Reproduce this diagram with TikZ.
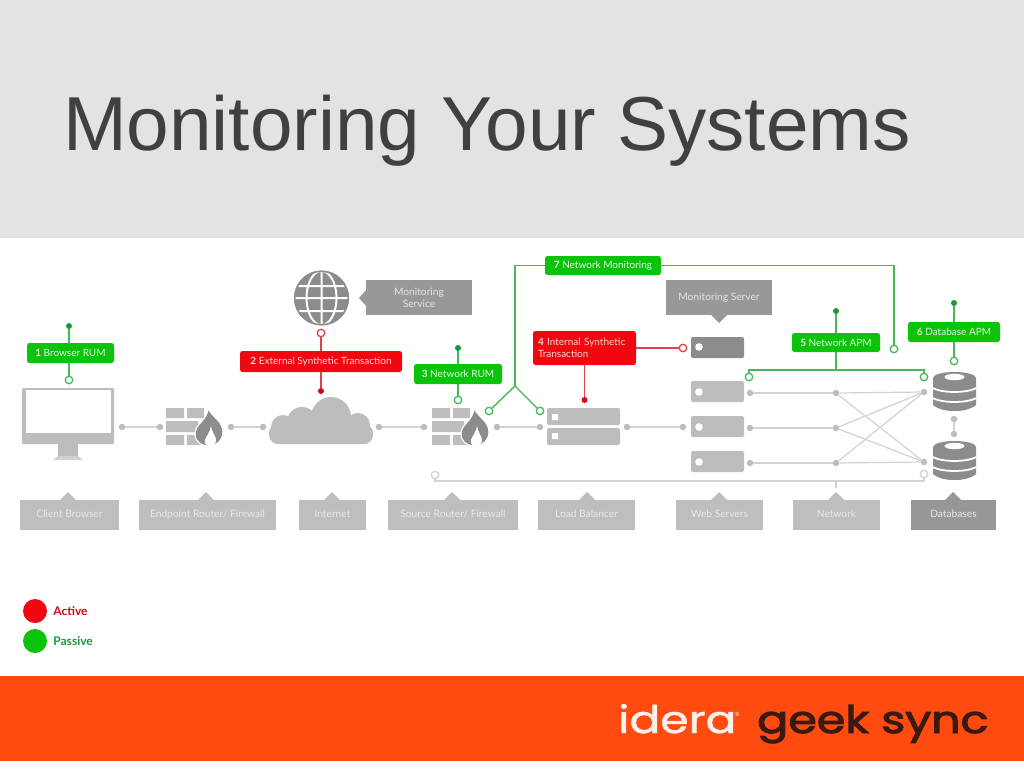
\documentclass[tikz,border=0pt]{standalone}
\usepackage{fontspec}
\setmainfont{Liberation Sans}
\newfontfamily\labelfont{Lato}
\newfontfamily\logofont[FakeBold=1.2]{Poppins}
\newfontfamily\syncfont[FakeBold=2.5]{Poppins}
\usetikzlibrary{calc,positioning}
\definecolor{FigureHeader}{HTML}{E3E3E3}
\definecolor{FigureTitle}{HTML}{404040}
\definecolor{FigureOrange}{HTML}{FF4A10}
\definecolor{FigureGreen}{HTML}{0AC30A}
\definecolor{FigureRed}{HTML}{F2060F}
\definecolor{FigureLine}{HTML}{45B85A}
\definecolor{FigureDot}{HTML}{159A3C}
\definecolor{FigureRedLine}{HTML}{E0404A}
\definecolor{FigureRedDot}{HTML}{D00A1C}
\definecolor{FigureIcon}{HTML}{BDBDBD}
\definecolor{FigureDark}{HTML}{8C8C8C}
\definecolor{FigureCallout}{HTML}{989898}
\definecolor{FigureBox}{HTML}{BEBEBE}
\definecolor{FigureWire}{HTML}{D2D2D2}
\definecolor{FigureBrown}{HTML}{3A1A10}
\tikzset{
  greenlabel/.style={rectangle,rounded corners=2.5pt,fill=FigureGreen,text=white!88!FigureGreen,inner sep=0pt,font=\labelfont\fontsize{10}{12.5}\selectfont},
  redlabel/.style={greenlabel,fill=FigureRed,text=white!85!FigureRed},
  capbox/.style={rectangle,fill=FigureBox,text=white!65!FigureBox,inner sep=0pt,minimum height=30pt,text height=7.5pt,text depth=2.5pt,font=\labelfont\fontsize{10.2}{12}\selectfont},
  darkbox/.style={rectangle,fill=FigureCallout,text=white!75!FigureCallout,inner sep=0pt,minimum height=35pt,font=\labelfont\fontsize{10.2}{12}\selectfont},
  greendot/.style={circle,fill=FigureDot,inner sep=0pt,minimum size=6pt},
  reddot/.style={circle,fill=FigureRedDot,inner sep=0pt,minimum size=6pt},
  greenring/.style={circle,draw=FigureLine,fill=white,line width=1.3pt,inner sep=0pt,minimum size=7.5pt},
  redring/.style={greenring,draw=FigureRedLine},
  grayring/.style={greenring,draw=FigureWire},
  graydot/.style={circle,fill=FigureIcon,inner sep=0pt,minimum size=6.5pt},
  greenwire/.style={FigureLine,line width=1.4pt},
  redwire/.style={FigureRedLine,line width=1.4pt},
  graywire/.style={FigureWire,line width=1.2pt},
  serverbox/.style={rectangle,rounded corners=2pt,fill=FigureIcon,inner sep=0pt,minimum width=53pt,minimum height=21pt},
  firewall/.pic={
    \fill[FigureIcon] (0,1) rectangle (18,11) (21,1) rectangle (38,11)
      (0,14) rectangle (32,25) (0,28) rectangle (18,38) (21,28) rectangle (35,38);
    \fill[FigureDark,draw=white,line width=1.2pt] (42,1) .. controls (46,10) and (57,14) .. (57,25)
      .. controls (57,33) and (51,39) .. (43,39) .. controls (34,39) and (28,33) .. (29,26)
      .. controls (30,16) and (41,14) .. (42,1) -- cycle;
    \fill[white] (45,19) .. controls (46,26) and (50,29) .. (50,33) .. controls (50,37) and (47,39) .. (44,39)
      .. controls (41,39) and (38,37) .. (39,33) .. controls (40,29) and (44,26) .. (45,19) -- cycle;
  },
  database/.pic={
    \fill[FigureDark] (-21.5,6) arc[x radius=21.5,y radius=6,start angle=180,end angle=360]
      arc[x radius=21.5,y radius=6,start angle=0,end angle=180] -- cycle;
    \fill[FigureDark] (-21.5,6) -- (21.5,6) -- (21.5,33) .. controls (15,38) and (8,39) .. (0,39)
      .. controls (-8,39) and (-15,38) .. (-21.5,33) -- cycle;
    \fill[white] (0,5) ellipse[x radius=10,y radius=3.2];
    \draw[white,line width=1.8pt] (-22,16) .. controls (-12,21.3) and (12,21.3) .. (22,16);
    \draw[white,line width=1.8pt] (-22,26) .. controls (-12,31.3) and (12,31.3) .. (22,26);
  },
}
\begin{document}
\begin{tikzpicture}[x=1pt,y=-1pt]
  \useasboundingbox (0,0) rectangle (1024,768);
  \fill[white] (0,0) rectangle (1024,768);
  \fill[FigureHeader] (0,0) rectangle (1024,238);
  \fill[FigureOrange] (0,676) rectangle (1024,761);
  \node[anchor=base west,inner sep=0pt,text=FigureTitle,font=\fontsize{76.5}{80}\selectfont] (title) at (63,150) {Monitoring Your Systems};

  % client browser
  \fill[FigureIcon] (58,444) rectangle (78,457);
  \fill[FigureIcon!70!white] (53,460) -- (58,456) -- (78,456) -- (83,460) -- cycle;
  \fill[FigureIcon,rounded corners=1pt] (22,388) rectangle (114,444);
  \fill[white] (26,390) rectangle (111,433);

  \pic at (166,407) {firewall};
  \pic at (432,407) {firewall};

  % internet cloud
  \fill[FigureIcon] (331,417) circle (20) (302,422) circle (15) (283,427) circle (12) (358,425) circle (12);
  \fill[FigureIcon,rounded corners=9pt] (269,424) rectangle (373,444);

  % monitoring service globe
  \begin{scope}
    \clip (321.5,298) circle (27.5);
    \fill[FigureDark] (294,270) rectangle (350,326);
    \draw[white,line width=2pt] (294,286) -- (350,286) (294,298) -- (350,298) (294,311) -- (350,311) (321.5,270) -- (321.5,326)
      (321.5,298) ellipse[x radius=15,y radius=27];
  \end{scope}
  \draw[FigureDark,line width=1.6pt] (321.5,298) circle (26.7);

  \node[darkbox,minimum width=106pt,align=center] (service) at (419,297.5) {Monitoring\\Service};
  \fill[FigureCallout] (366,290) -- (359,298) -- (366,306) -- cycle;
  \node[darkbox,minimum width=106pt] (server) at (719,297.5) {Monitoring Server};
  \fill[FigureCallout] (711,315) -- (719,323) -- (727,315) -- cycle;

  % servers
  \node[serverbox,fill=FigureDark] (monitor) at (717.5,347.5) {};
  \node[serverbox] (webtop) at (717.5,391.5) {};
  \node[serverbox] (webmid) at (717.5,426.5) {};
  \node[serverbox] (weblow) at (717.5,461.5) {};
  \foreach \y in {347,392,427,462}
    \fill[white] (699,\y) circle (3.8);
  \node[serverbox,minimum width=73pt,minimum height=17pt] (lbtop) at (583.5,416.5) {};
  \node[serverbox,minimum width=73pt,minimum height=17pt] (lblow) at (583.5,436.5) {};
  \fill[white] (552,414) rectangle (558,420) (552,433) rectangle (558,439);

  % databases
  \pic at (954.5,372) {database};
  \pic at (954.5,441) {database};

  % gray connections
  \node[graydot] (a1) at (122,427) {};
  \node[graydot] (a2) at (160,427) {};
  \node[graydot] (b1) at (231,427) {};
  \node[graydot] (b2) at (263,427) {};
  \node[graydot] (c1) at (379,427) {};
  \node[graydot] (c2) at (424,427) {};
  \node[graydot] (d1) at (497,427) {};
  \node[graydot] (d2) at (540,427) {};
  \node[graydot] (e1) at (627,427) {};
  \node[graydot] (e2) at (683,427) {};
  \node[graydot] (w1) at (750,393) {};
  \node[graydot] (w2) at (750,428) {};
  \node[graydot] (w3) at (750,463) {};
  \node[graydot] (n1) at (836,393) {};
  \node[graydot] (n2) at (836,428) {};
  \node[graydot] (n3) at (836,463) {};
  \node[graydot] (dbtop) at (924,392) {};
  \node[graydot] (dblow) at (924,462) {};
  \node[graydot] (dbup) at (954,419) {};
  \node[graydot] (dbdn) at (954,434) {};
  \foreach \from/\to in {a1/a2,b1/b2,c1/c2,d1/d2,e1/e2,w1/n1,w2/n2,w3/n3,n1/dbtop,n1/dblow,n2/dbtop,n2/dblow,n3/dbtop,n3/dblow,dbup/dbdn}
    \draw[graywire] (\from) -- (\to);

  \node[grayring] (busleft) at (435,475) {};
  \node[grayring] (busright) at (924,474) {};
  \draw[graywire] (busleft) |- (924,481) -- (busright);
  \coordinate (busnet) at (836,481);
  \coordinate (nettick) at (836,488);
  \draw[graywire] (busnet) -- (nettick);

  % 1 browser rum
  \node[greenlabel,minimum width=87pt,minimum height=20pt] (browser) at (70.5,353) {\textbf{1} Browser RUM};
  \node[greendot] (browsertop) at (69,326) {};
  \node[greenring] (browserlow) at (69,380) {};
  \draw[greenwire] (browsertop) -- (browsertop |- browser.north) (browserlow) -- (browserlow |- browser.south);

  % 2 external synthetic
  \node[redlabel,minimum width=162pt,minimum height=21pt] (external) at (321,361.5) {\textbf{2} External Synthetic Transaction};
  \node[redring] (externaltop) at (321,333) {};
  \node[reddot] (externallow) at (321,391) {};
  \draw[redwire] (externaltop) -- (external) -- (externallow);

  % 3 network rum
  \node[greenlabel,minimum width=88pt,minimum height=20pt] (netrum) at (458,374) {\textbf{3} Network RUM};
  \node[greendot] (netrumtop) at (458,348) {};
  \node[greenring] (netrumlow) at (458,400) {};
  \draw[greenwire] (netrumtop) -- (netrum) -- (netrumlow);

  % 4 internal synthetic
  \node[redlabel,minimum width=103pt,minimum height=34pt,align=left,text width=93pt] (internal) at (584.5,348) {\textbf{4} Internal Synthetic\\Transaction};
  \node[redring] (internalring) at (683,348) {};
  \node[reddot] (internaldot) at (584.5,400) {};
  \draw[redwire] (internal) -- (internalring);
  \draw[redwire] (internal) -- (internaldot);

  % 5 network apm
  \node[greenlabel,minimum width=88pt,minimum height=19pt] (netapm) at (836,342.5) {\textbf{5} Network APM};
  \node[greendot] (netapmtop) at (836,311) {};
  \coordinate (netapmbus) at (836,370);
  \node[greenring] (netapmleft) at (749,377) {};
  \node[greenring] (netapmright) at (924,377) {};
  \draw[greenwire] (netapmtop) -- (netapm) -- (netapmbus);
  \draw[greenwire] (netapmleft) |- (netapmbus) -| (netapmright);

  % 6 database apm
  \node[greenlabel,minimum width=92pt,minimum height=20pt] (dbapm) at (954,332) {\textbf{6} Database APM};
  \node[greendot] (dbapmtop) at (954,303) {};
  \node[greenring] (dbapmlow) at (954,361) {};
  \draw[greenwire] (dbapmtop) -- (dbapm) -- (dbapmlow);

  % 7 network monitoring
  \node[greenlabel,minimum width=116pt,minimum height=19pt] (netmon) at (603,265.5) {\textbf{7} Network Monitoring};
  \coordinate (netmonfork) at (515,386);
  \node[greenring] (netmonleft) at (489,411) {};
  \node[greenring] (netmonmid) at (540,411) {};
  \node[greenring] (netmonright) at (894,349) {};
  \draw[greenwire] (netmon) -| (netmonfork);
  \draw[greenwire] (netmonleft) -- (netmonfork) -- (netmonmid);
  \draw[greenwire] (netmon) -| (netmonright);

  % captions
  \node[capbox,minimum width=99pt] (client) at (69.5,515) {Client Browser};
  \node[capbox,minimum width=137pt] (endpoint) at (207.5,515) {Endpoint Router/ Firewall};
  \node[capbox,minimum width=67pt] (internet) at (332.5,515) {Internet};
  \node[capbox,minimum width=130pt] (source) at (453,515) {Source Router/ Firewall};
  \node[capbox,minimum width=97pt] (balancer) at (586.5,515) {Load Balancer};
  \node[capbox,minimum width=87pt] (webservers) at (719.5,515) {Web Servers};
  \node[capbox,minimum width=87pt] (network) at (836.5,515) {Network};
  \node[capbox,fill=FigureDark!90!white,minimum width=85pt] (databases) at (953.5,515) {Databases};
  \foreach \tipx in {68,206,332,452,587,719,836}
    \fill[FigureBox] (\tipx-8,500) -- (\tipx,492) -- (\tipx+8,500) -- cycle;
  \fill[FigureDark!90!white] (945,500) -- (953,492) -- (961,500) -- cycle;

  % legend
  \node[circle,fill=FigureRed,inner sep=0pt,minimum size=24pt] (active) at (35,611) {};
  \node[circle,fill=FigureGreen,inner sep=0pt,minimum size=24pt] (passive) at (35,641) {};
  \node[right=6pt of active,inner sep=0pt,text=FigureRedDot,font=\labelfont\bfseries\fontsize{12}{14}\selectfont] (activetext) {Active};
  \node[right=6pt of passive,inner sep=0pt,text=FigureDot,font=\labelfont\bfseries\fontsize{12}{14}\selectfont] (passivetext) {Passive};

  % logo
  \node[anchor=base west,inner sep=0pt,text=white!92!FigureOrange,font=\logofont\fontsize{38}{40}\selectfont,xscale=1.2,transform shape] (idera) at (618,733) {idera};
  \node[inner sep=0pt,text=white!92!FigureOrange,font=\labelfont\fontsize{6}{7}\selectfont] (ideramark) at (737,714) {®};
  \node[anchor=base west,inner sep=0pt,text=FigureBrown,font=\syncfont\fontsize{38}{40}\selectfont,xscale=1.21,transform shape] (geeksync) at (757,733) {geek sync};
\end{tikzpicture}
\end{document}
